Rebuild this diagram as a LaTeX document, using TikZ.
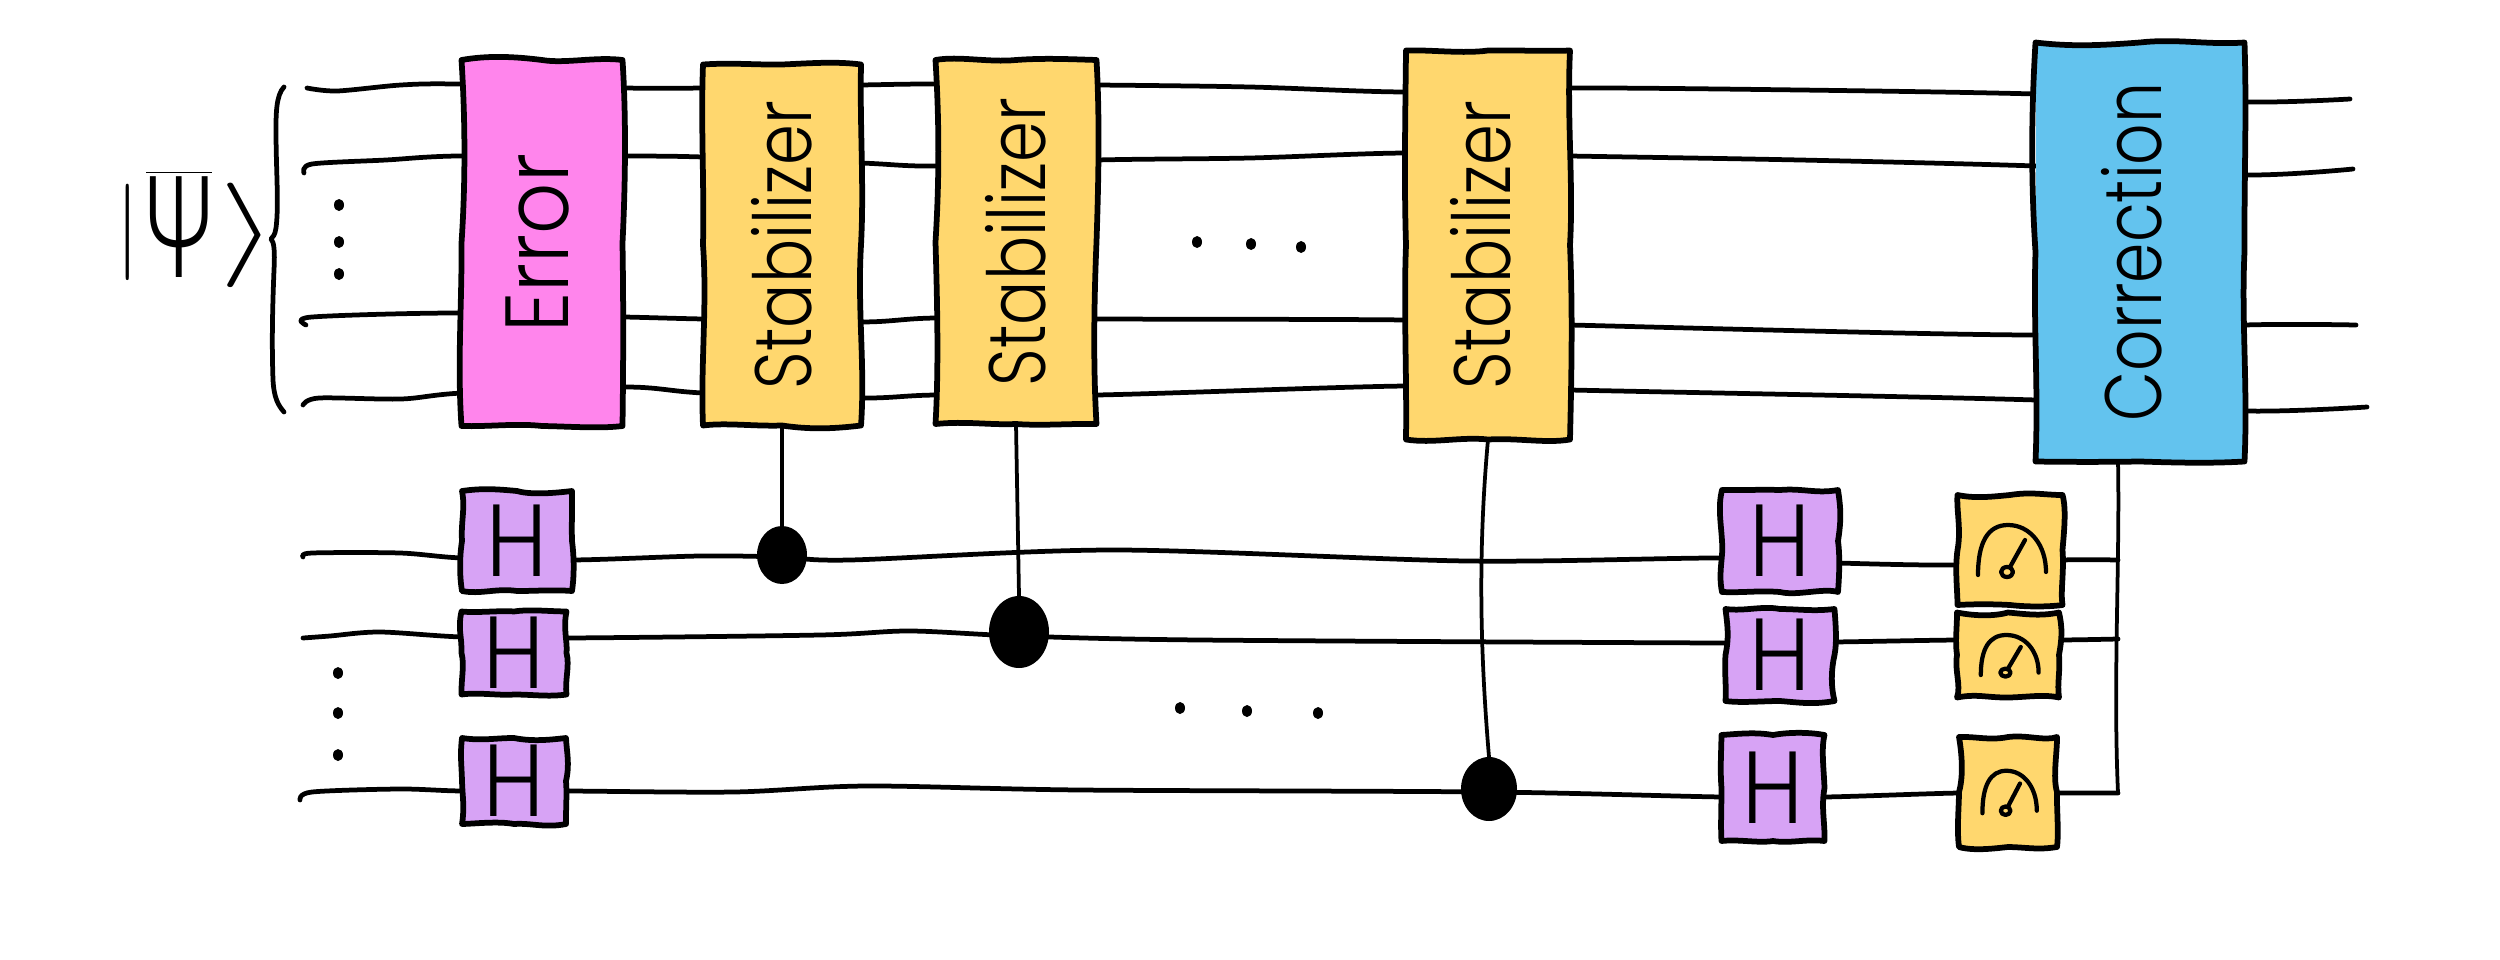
\documentclass[tikz,border=0pt]{standalone}
\usepackage{fontspec}
\setmainfont{Poppins}[UprightFont=* Light]
\newfontfamily\psifont{Fira Sans}[UprightFont=* Light]
\usetikzlibrary{calc,shapes.geometric}
\definecolor{errpink}{HTML}{FF85EC}
\definecolor{stabyellow}{HTML}{FFD76E}
\definecolor{corrblue}{HTML}{63C3EE}
\definecolor{hpurple}{HTML}{D7A3F5}
\newcommand{\gatefont}{\fontsize{32}{32}\selectfont}
\newcommand{\hlabel}{\gatefont\scalebox{1.12}[1.28]{H}}
\tikzset{
  wire/.style={line width=1.9pt,line cap=round,line join=round},
  thinwire/.style={line width=1.5pt,line cap=round},
  outline/.style={line width=2.3pt,line cap=round,line join=round},
  wob/.style={to path={ .. controls ($(\tikztostart)!0.33!(\tikztotarget)+(4.5*rand,4.5*rand)$) and ($(\tikztostart)!0.67!(\tikztotarget)+(4.5*rand,4.5*rand)$) .. (\tikztotarget)}},
  gate/.style={rectangle,inner sep=0pt,outer sep=0pt,fill=#1},
  ctrl/.style={ellipse,fill=black,inner sep=0pt,outer sep=0pt},
  meter/.style={line width=1.7pt,line cap=round,line join=round}
}
\newcommand{\sketchbox}[1]{%
  \draw[outline] (#1.north west) to[wob] (#1.north) to[wob] (#1.north east) to[wob] (#1.east)
    to[wob] (#1.south east) to[wob] (#1.south) to[wob] (#1.south west) to[wob] (#1.west) to[wob] (#1.north west);
}
\newcommand{\gatenode}[7]{% name, color, x, y, w, h, text
  \node[gate=#2,minimum width=#5*0.4pt,minimum height=#6*0.4pt] (#1) at (#3,#4) {#7};
  \sketchbox{#1}
}
\newcommand{\meterdraw}[3]{% node, xscale, yscale
  \begin{scope}[shift={(#1)},xscale=#2,yscale=#3]
    \draw[meter] (-32,25) .. controls (-32,-8) and (-22,-25) .. (-2,-25) .. controls (20,-25) and (36,-5) .. (36,22);
    \draw[meter] (-3,22) circle [x radius=6,y radius=5];
    \draw[meter] (0,17) -- (15,-10);
  \end{scope}
}
\begin{document}
\begin{tikzpicture}[x=0.4pt,y=-0.4pt]
\pgfmathsetseed{17}
\useasboundingbox (0,0) rectangle (2500,960);
% named wire ends
\coordinate (q1s) at (307,88);  \coordinate (q1e) at (2350,99);
\coordinate (q2s) at (304,173); \coordinate (q2e) at (2353,169);
\coordinate (q3s) at (306,325); \coordinate (q3e) at (2356,325);
\coordinate (q4s) at (303,405); \coordinate (q4e) at (2367,407);
\coordinate (asta) at (303,557); \coordinate (bsta) at (303,638); \coordinate (csta) at (300,800);
\coordinate (bb) at (2118,793); \coordinate (ba) at (2118,560); \coordinate (bbm) at (2118,639);
% wires
\draw[wire] plot[smooth,tension=0.5] coordinates {(q1s) (337,91) (401,85) (457,84) (625,88) (703,88) (861,85) (936,84) (1097,85) (1250,87) (1406,92) (1570,88) (1800,90) (2036,94) (2245,102) (q1e)};
\draw[wire] plot[smooth,tension=0.5] coordinates {(q2s) (312,164) (386,160) (457,156) (625,156) (703,157) (861,163) (936,166) (1097,160) (1250,158) (1406,153) (1570,156) (1800,160) (2036,166) (2245,175) (q2e)};
\draw[wire] plot[smooth,tension=0.5] coordinates {(q3s) (312,317) (457,313) (625,317) (703,319) (861,322) (936,318) (1097,319) (1406,320) (1570,325) (2036,335) (2245,325) (q3e)};
\draw[wire] plot[smooth,tension=0.5] coordinates {(q4s) (319,398) (401,399) (462,393) (625,387) (703,393) (861,398) (936,395) (1097,395) (1406,386) (1570,390) (2036,400) (2245,411) (q4e)};
\draw[wire] plot[smooth,tension=0.5] coordinates {(asta) (312,553) (400,553) (462,558) (572,560) (700,556) (782,557) (850,560) (1116,550) (1467,561) (1723,558) (1838,563) (1957,565) (2062,560) (ba)};
\draw[wire] plot[smooth,tension=0.5] coordinates {(bsta) (330,636) (380,632) (462,637) (567,638) (820,635) (910,631) (1019,636) (1200,640) (1725,643) (1834,642) (1957,640) (2059,640) (bbm)};
\draw[wire] plot[smooth,tension=0.5] coordinates {(csta) (312,792) (400,789) (462,791) (566,791) (734,792) (867,786) (1080,790) (1489,792) (1722,797) (1825,797) (1959,793) (2057,793) (bb)};
% large gates
\gatenode{err}{errpink}{542}{243}{161}{366}{\rotatebox{90}{\gatefont\scalebox{1}[1.12]{Error}}\kern 4pt}
\gatenode{st1}{stabyellow}{782}{245}{158}{361}{\rotatebox{90}{\gatefont\scalebox{0.82}[1]{Stabilizer}}}
\gatenode{st2}{stabyellow}{1016}{242}{161}{364}{\rotatebox{90}{\gatefont\scalebox{0.82}[1]{Stabilizer}}}
\gatenode{st3}{stabyellow}{1488}{245}{164}{389}{\rotatebox{90}{\gatefont\scalebox{0.82}[1]{Stabilizer}}\kern 5.6pt}
\gatenode{corr}{corrblue}{2140}{252}{209}{419}{\rotatebox{90}{\gatefont\scalebox{0.81}[1]{Correction}}\kern 7pt}
% Hadamard gates
\gatenode{h1}{hpurple}{517}{541}{110}{100}{\hlabel}
\gatenode{h2}{hpurple}{514}{653}{105}{83}{\hlabel}
\gatenode{h3}{hpurple}{514}{781}{104}{86}{\hlabel}
\gatenode{h4}{hpurple}{1780}{541}{116}{102}{\hlabel}
\gatenode{h5}{hpurple}{1780}{655}{109}{92}{\hlabel}
\gatenode{h6}{hpurple}{1773}{788}{103}{106}{\hlabel}
% measurement gates
\gatenode{m1}{stabyellow}{2010}{550}{105}{110}{}
\gatenode{m2}{stabyellow}{2008}{655}{102}{85}{}
\gatenode{m3}{stabyellow}{2008}{792}{98}{110}{}
\meterdraw{m1}{1}{1}
\meterdraw{m2}{0.85}{0.8}
\meterdraw{m3}{0.8}{0.85}
% controls
\node[ctrl,minimum width=50*0.4pt,minimum height=58*0.4pt] (c1) at (782,555) {};
\node[ctrl,minimum width=60*0.4pt,minimum height=72*0.4pt] (c2) at (1019,632) {};
\node[ctrl,minimum width=56*0.4pt,minimum height=64*0.4pt] (c3) at (1489,789) {};
\draw[thinwire] (st1.south) -- (c1.north);
\draw[thinwire] (st2.south) -- (c2.north);
\draw[thinwire] (st3.south) .. controls (1478,550) and (1480,650) .. (c3.north);
\draw[thinwire] (corr.south -| bb) .. controls (2120,560) and (2113,680) .. (bb);
% dots
\foreach \px/\py in {1197/242,1251/244,1301/247,1180/708,1247/711,1318/713,339/205,339/242,339/274,338/673,338/713,338/755}
  \fill (\px,\py) ellipse [x radius=5,y radius=6];
% brace
\draw[wire] (284,87) .. controls (276,95) and (276,115) .. (276,130) .. controls (276,170) and (279,205) .. (276,228) .. controls (275,235) and (273,237) .. (271,239)
  .. controls (274,242) and (275,250) .. (274,270) .. controls (272,320) and (272,350) .. (273,380) .. controls (274,398) and (278,405) .. (284,412);
% logical state label
\node[inner sep=0pt,anchor=base] (psi) at (197,277) {\fontsize{38}{38}\selectfont $\raisebox{8.3pt}{\scalebox{1.3}[1.55]{$|$}}\kern 3pt\overline{\hbox{\psifont\fontsize{46}{46}\selectfont\scalebox{0.85}[1.28]{Ψ}}}\kern 3pt\raisebox{6.4pt}{\scalebox{2.4}[1.68]{$\rangle$}}$};
\end{tikzpicture}
\end{document}
